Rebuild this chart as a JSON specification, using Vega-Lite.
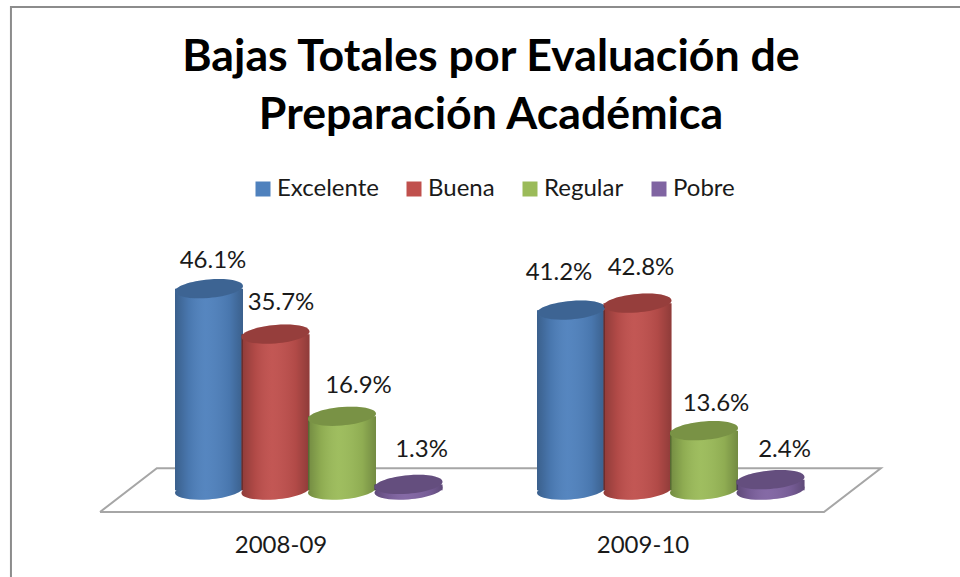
{
"$schema":"https://vega.github.io/schema/vega-lite/v6.json",
"autosize":"none","width":724,"height":419,
"padding":{"left":100,"top":93,"right":136,"bottom":65},
"background":"white",
"config":{"view":{"stroke":null},"font":"Lato"},
"title":{"text":["Bajas Totales por Evaluación de","Preparación Académica"],"font":"Lato","fontSize":44.7,"fontWeight":"bold","color":"#000000","anchor":"middle","frame":"group","dx":29,"dy":136,"lineHeight":58,"offset":0},
"datasets":{
"rows":[
{"year":"2008-09","cat":"Excelente","pct":46.1,"label":"46.1%"},
{"year":"2008-09","cat":"Buena","pct":35.7,"label":"35.7%"},
{"year":"2008-09","cat":"Regular","pct":16.9,"label":"16.9%"},
{"year":"2008-09","cat":"Pobre","pct":1.3,"label":"1.3%"},
{"year":"2009-10","cat":"Excelente","pct":41.2,"label":"41.2%"},
{"year":"2009-10","cat":"Buena","pct":42.8,"label":"42.8%"},
{"year":"2009-10","cat":"Regular","pct":13.6,"label":"13.6%"},
{"year":"2009-10","cat":"Pobre","pct":2.4,"label":"2.4%"}],
"floor":[{"u":0,"v":-5,"k":1},{"u":2,"v":-5,"k":2},{"u":2.157,"v":5,"k":3},{"u":0.157,"v":5,"k":4},{"u":0,"v":-5,"k":5}],
"frame":[{"u":-0.246,"v":-20,"k":1},{"u":-0.246,"v":110.6,"k":2},{"u":2.38,"v":110.6,"k":3}]
},
"resolve":{"scale":{"x":"independent"}},
"layer":[
{"data":{"name":"frame"},"mark":{"type":"line","color":"#8c8c8c","strokeWidth":2,"clip":false,"strokeCap":"butt"},
 "encoding":{"x":{"field":"u","type":"quantitative","scale":{"domain":[0,2]},"axis":null},"y":{"field":"v","type":"quantitative","scale":{"domain":[-5,90.9]},"axis":null},"order":{"field":"k"}}},
{"data":{"name":"floor"},"mark":{"type":"line","color":"#a6a6a6","strokeWidth":2,"clip":false},
 "encoding":{"x":{"field":"u","type":"quantitative","scale":{"domain":[0,2]},"axis":null},"y":{"field":"v","type":"quantitative","scale":{"domain":[-5,90.9]},"axis":null},"order":{"field":"k"}}},
{"data":{"name":"rows"},
 "encoding":{
  "x":{"field":"year","type":"nominal","scale":{"paddingInner":0,"paddingOuter":0},"axis":{"title":null,"domain":false,"ticks":false,"labelAngle":0,"labelFont":"Lato","labelFontSize":24,"labelColor":"#1a1a1a","labelPadding":21}},
  "xOffset":{"field":"cat","type":"nominal","sort":["Excelente","Buena","Regular","Pobre"],"scale":{"domain":["Excelente","Buena","Regular","Pobre"],"range":[75.75,341.75],"paddingInner":0,"paddingOuter":0}},
  "y":{"field":"pct","type":"quantitative","scale":{"domain":[-5,90.9]},"stack":null,"axis":null}
 },
 "layer":[
  {"mark":{"type":"point","filled":true,"strokeWidth":0,"opacity":1,"size":4624,"shape":"M-1,0.08A1.003,0.27,-5,1,1,1,-0.08A1.003,0.27,-5,1,1,-1,0.08Z"},
   "encoding":{"y":{"datum":0,"type":"quantitative"},"fill":{"field":"cat","type":"nominal","sort":["Excelente","Buena","Regular","Pobre"],"scale":{"domain":["Excelente","Buena","Regular","Pobre"],"range":["#4f81bd","#c0504d","#9bbb59","#8064a2"]},
    "legend":{"title":null,"orient":"none","legendX":151,"legendY":84,"direction":"horizontal","columns":4,"gridAlign":"none","columnPadding":23,"symbolType":"square","symbolSize":225,"symbolStrokeWidth":0,"symbolOpacity":1,"labelFont":"Lato","labelFontSize":24,"labelColor":"#1a1a1a","labelOffset":2}}}},
  {"mark":{"type":"point","filled":true,"strokeWidth":0,"opacity":1,"size":4624,"shape":"M-1,0.08A1.003,0.27,-5,1,1,1,-0.08A1.003,0.27,-5,1,1,-1,0.08Z","fill":{"x1":0,"y1":0,"x2":1,"y2":0,"gradient":"linear","stops":[{"offset":0,"color":"rgba(0,0,0,0.26)"},{"offset":0.2,"color":"rgba(0,0,0,0.08)"},{"offset":0.45,"color":"rgba(255,255,255,0.04)"},{"offset":0.8,"color":"rgba(0,0,0,0.08)"},{"offset":1,"color":"rgba(0,0,0,0.26)"}]}},
   "encoding":{"y":{"datum":0,"type":"quantitative"}}},
  {"mark":{"type":"bar","width":68},
   "encoding":{"fill":{"field":"cat","type":"nominal","sort":["Excelente","Buena","Regular","Pobre"],"scale":{"domain":["Excelente","Buena","Regular","Pobre"],"range":["#4f81bd","#c0504d","#9bbb59","#8064a2"]}}}},
  {"mark":{"type":"bar","width":68,"fill":{"x1":0,"y1":0,"x2":1,"y2":0,"gradient":"linear","stops":[{"offset":0,"color":"rgba(0,0,0,0.26)"},{"offset":0.2,"color":"rgba(0,0,0,0.08)"},{"offset":0.45,"color":"rgba(255,255,255,0.04)"},{"offset":0.8,"color":"rgba(0,0,0,0.08)"},{"offset":1,"color":"rgba(0,0,0,0.26)"}]}}},
  {"mark":{"type":"point","filled":true,"strokeWidth":0,"opacity":1,"size":4624,"shape":"M-1,0.08A1.003,0.27,-5,1,1,1,-0.08A1.003,0.27,-5,1,1,-1,0.08Z"},
   "encoding":{"fill":{"field":"cat","type":"nominal","sort":["Excelente","Buena","Regular","Pobre"],"scale":{"domain":["Excelente","Buena","Regular","Pobre"],"range":["#4f81bd","#c0504d","#9bbb59","#8064a2"]}}}},
  {"mark":{"type":"point","filled":true,"strokeWidth":0,"size":4624,"opacity":0.22,"color":"#000000","shape":"M-1,0.08A1.003,0.27,-5,1,1,1,-0.08A1.003,0.27,-5,1,1,-1,0.08Z"}},
  {"transform":[{"filter":"datum.pct==46.1"}],"mark":{"type":"text","font":"Lato","fontSize":24,"color":"#1a1a1a","dx":4,"dy":-27.5},"encoding":{"text":{"field":"label"}}},
  {"transform":[{"filter":"datum.pct==35.7"}],"mark":{"type":"text","font":"Lato","fontSize":24,"color":"#1a1a1a","dx":5.5,"dy":-31},"encoding":{"text":{"field":"label"}}},
  {"transform":[{"filter":"datum.pct==16.9"}],"mark":{"type":"text","font":"Lato","fontSize":24,"color":"#1a1a1a","dx":16.5,"dy":-30},"encoding":{"text":{"field":"label"}}},
  {"transform":[{"filter":"datum.pct==1.3"}],"mark":{"type":"text","font":"Lato","fontSize":24,"color":"#1a1a1a","dx":13,"dy":-34},"encoding":{"text":{"field":"label"}}},
  {"transform":[{"filter":"datum.pct==41.2"}],"mark":{"type":"text","font":"Lato","fontSize":24,"color":"#1a1a1a","dx":-12,"dy":-37},"encoding":{"text":{"field":"label"}}},
  {"transform":[{"filter":"datum.pct==42.8"}],"mark":{"type":"text","font":"Lato","fontSize":24,"color":"#1a1a1a","dx":3.5,"dy":-35},"encoding":{"text":{"field":"label"}}},
  {"transform":[{"filter":"datum.pct==13.6"}],"mark":{"type":"text","font":"Lato","fontSize":24,"color":"#1a1a1a","dx":12,"dy":-27},"encoding":{"text":{"field":"label"}}},
  {"transform":[{"filter":"datum.pct==2.4"}],"mark":{"type":"text","font":"Lato","fontSize":24,"color":"#1a1a1a","dx":14,"dy":-30},"encoding":{"text":{"field":"label"}}}
 ]
}
]
}
